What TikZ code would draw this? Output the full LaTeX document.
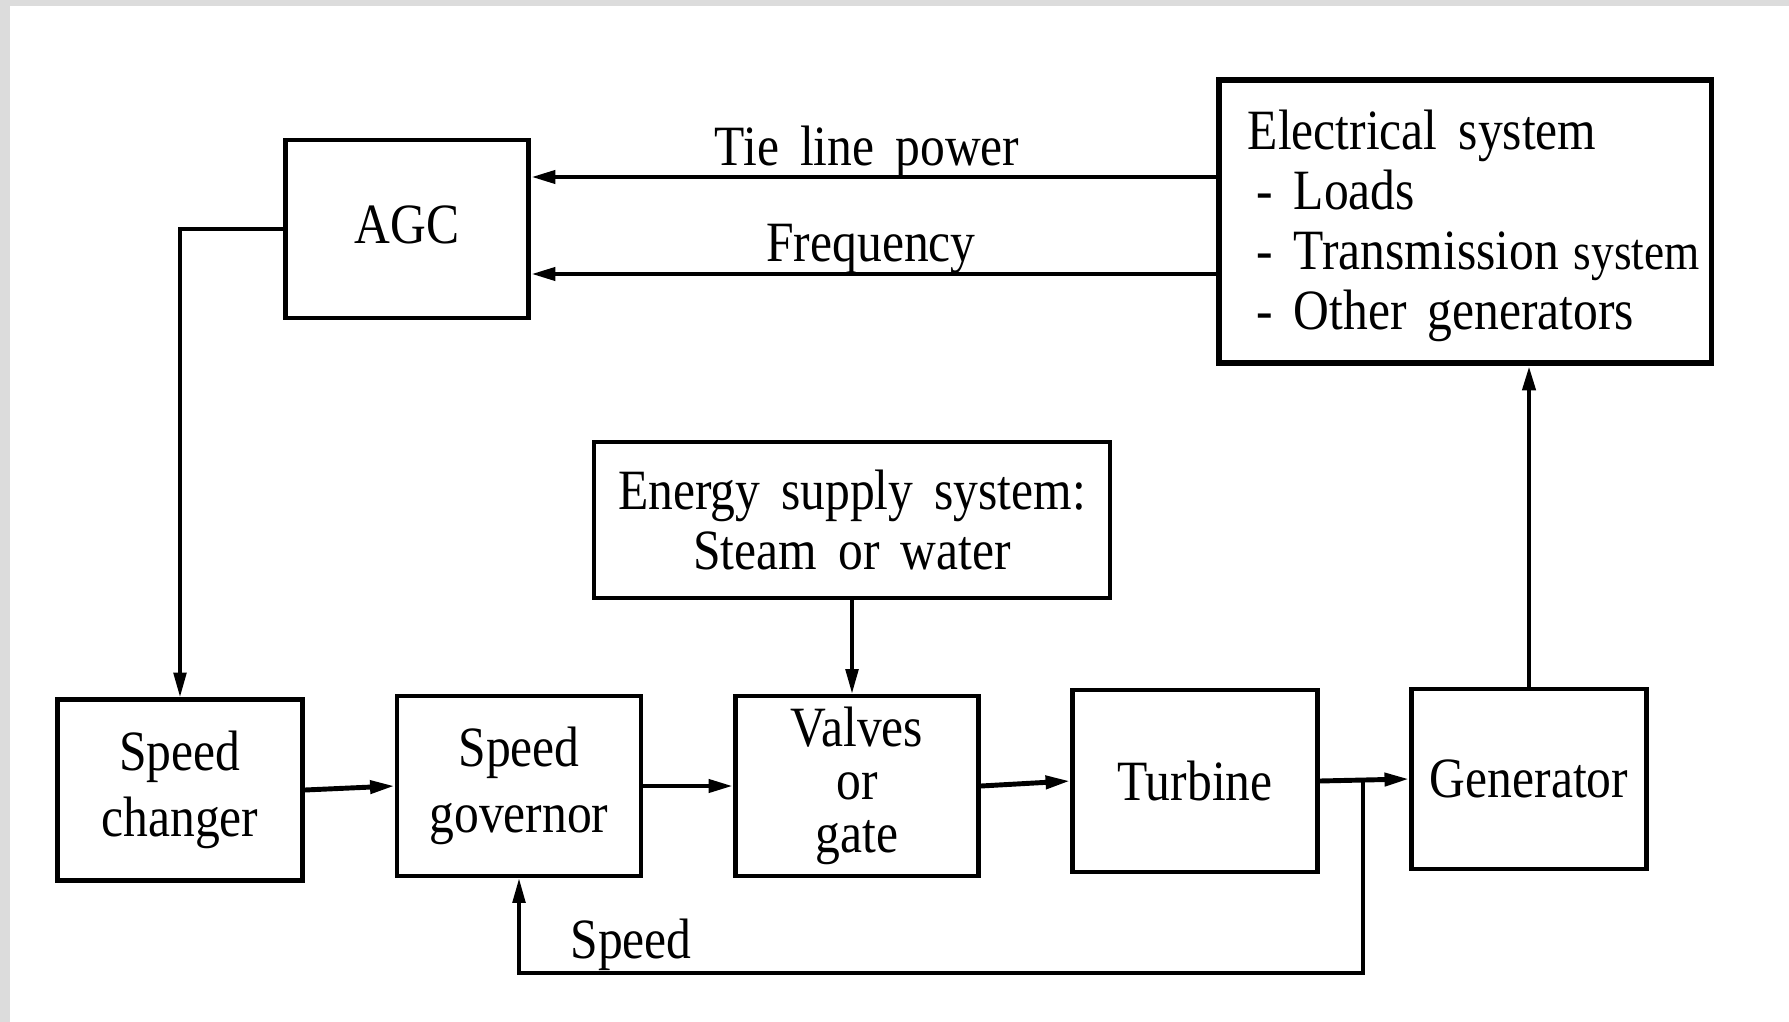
\documentclass[tikz,border=0pt]{standalone}
\usepackage{fontspec}
\setmainfont{Liberation Serif}[FakeStretch=0.87,WordSpace=1.7]
\usetikzlibrary{arrows.meta,calc}
\definecolor{bggray}{RGB}{220,220,220}
\tikzset{
  box/.style={draw, line width=1.3pt, inner sep=0pt, align=center, font=\fontsize{16.2}{18.8}\selectfont},
  arr/.style={line width=1.4pt, -{Triangle[length=7pt,width=3.6pt]}},
  thinarr/.style={line width=1pt, -{Triangle[length=7pt,width=3.6pt]}},
  lbl/.style={inner sep=0pt, font=\fontsize{16.2}{18.8}\selectfont},
}
\begin{document}
\begin{tikzpicture}[x=0.01cm,y=-0.01cm]
\useasboundingbox (0,0) rectangle (1789,1022);
\fill[bggray] (0,0) rectangle (1789,1022);
\fill[white] (10,6) rectangle (1789,1022);

% blocks
\node[box, minimum width=2.43cm, minimum height=1.78cm] (agc) at (407,229) {\raisebox{2.6pt}{AGC}};
\node[box, minimum width=4.92cm, minimum height=2.83cm, line width=1.5pt] (el) at (1465,221.5) {};
\node[anchor=north west, align=left, inner sep=0pt, font=\fontsize{16.2}{17.1}\selectfont] (eltxt) at (1247,109)
  {Electrical system\\ \hspace*{0.15em}- Loads\\ \hspace*{0.15em}- Transmission\hspace{0.26em}{\fontsize{14.8}{17.1}\selectfont system}\\ \hspace*{0.15em}- Other generators};
\node[box, minimum width=5.16cm, minimum height=1.56cm, font=\fontsize{16.2}{16.8}\selectfont] (en) at (852,520) {Energy supply system:\\Steam or water};
\node[box, minimum width=2.45cm, minimum height=1.81cm] (sc) at (180,790) {Speed\\changer};
\node[box, minimum width=2.44cm, minimum height=1.80cm] (sg) at (519,786) {Speed\\governor};
\node[box, minimum width=2.43cm, minimum height=1.80cm, font=\fontsize{16.2}{15}\selectfont] (vg) at (857,786) {Valves\\or\\gate};
\node[box, minimum width=2.45cm, minimum height=1.82cm] (tb) at (1195,781) {Turbine};
\node[box, minimum width=2.35cm, minimum height=1.80cm] (gen) at (1529,779) {Generator};

% labels
\node[lbl] (tll) at (867,152) {Tie line power};
\node[lbl] (fql) at (871,249) {Frequency};
\node[lbl] (spl) at (631,945) {Speed};

% helper coordinates
\coordinate (tly) at (0,177);
\coordinate (fqy) at (0,274);
\coordinate (fby) at (0,973);

% connectors
\draw[arr] (el.west |- tly) -- (agc.east |- tly);
\draw[arr] (el.west |- fqy) -- (agc.east |- fqy);
\draw[thinarr] (agc.west) -| (sc.north);
\draw[arr] (sc.east) -- (sg.west);
\draw[arr] (sg.east) -- (vg.west);
\draw[arr] (vg.east) -- (tb.west);
\draw[arr] (tb.east) -- (gen.west);
\draw[thinarr] (en.south) -- (en.south |- vg.north);
\draw[arr] (gen.north) -- (gen.north |- el.south);
\coordinate (tap) at ($(tb.east)!0.48!(gen.west)$);
\draw[thinarr] (tap) -- (tap |- fby) -| (sg.south);
\end{tikzpicture}
\end{document}
